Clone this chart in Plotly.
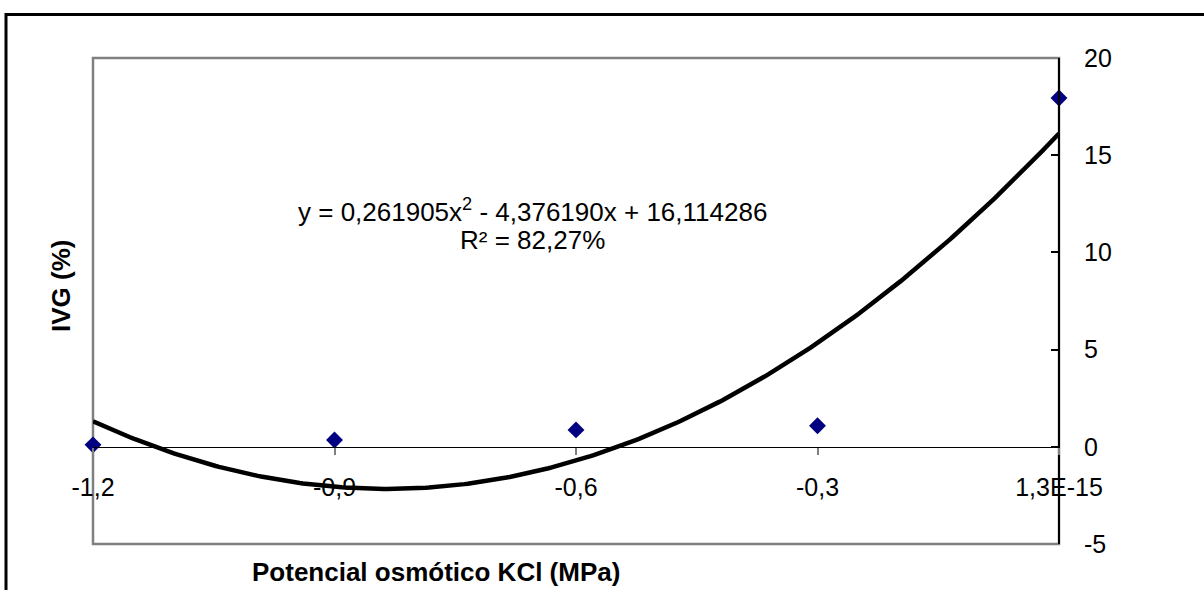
import numpy as np
import plotly.graph_objects as go

# Osmotic potential (MPa) and germination speed index
potencial = [-1.2, -0.9, -0.6, -0.3, 1.3e-15]
ivg = [0.1, 0.35, 0.87, 1.08, 17.94]

x_ticks = [-1.2, -0.9, -0.6, -0.3, 1.3e-15]
x_ticktext = ["-1,2", "-0,9", "-0,6", "-0,3", "1,3E-15"]
y_ticks = [-5, 0, 5, 10, 15, 20]
y_ticktext = ["-5", "0", "5", "10", "15", "20"]

# Quadratic trend coefficients (variable expressed as |potential| x 10)
coef_a = 0.261905
coef_b = -4.376190
coef_c = 16.114286
r2_label = "R² = 82,27%"
eq_label = "y = 0,261905x<sup>2</sup> - 4,376190x + 16,114286"

xs = np.linspace(-1.2, 0.0, 300)
u = -10.0 * xs
ys = coef_a * u ** 2 + coef_b * u + coef_c

FONT = "Liberation Sans"
W, H = 1204, 590
L, R, T, B = 93, 1059, 58, 544


def px(xp):
    return (xp - L) / (R - L)


def py(yp):
    return (B - yp) / (B - T)


fig = go.Figure()
fig.add_trace(go.Scatter(x=xs, y=ys, mode="lines",
                         line=dict(color="black", width=4.5),
                         hoverinfo="skip", showlegend=False))
fig.add_trace(go.Scatter(x=potencial, y=ivg, mode="markers",
                         marker=dict(symbol="diamond", size=13, color="#000080"),
                         cliponaxis=False, showlegend=False))

fig.update_layout(
    width=W, height=H,
    margin=dict(l=L, r=W - R, t=T, b=H - B),
    paper_bgcolor="white", plot_bgcolor="white",
    font=dict(family=FONT, color="black", size=25),
    xaxis=dict(range=[-1.2, 1.3e-15], tickvals=x_ticks, ticktext=x_ticktext,
               anchor="free", position=0.2, showgrid=False, zeroline=False,
               showline=True, linecolor="black", linewidth=1,
               ticks="outside", ticklen=7, tickwidth=1.5, tickcolor="#808080",
               tickfont=dict(size=25, family=FONT), ticklabelstandoff=11),
    yaxis=dict(range=[-5, 20], tickvals=y_ticks, ticktext=y_ticktext, side="right",
               anchor="free", position=1, showgrid=False, zeroline=False,
               showline=True, linecolor="black", linewidth=2,
               ticks="inside", ticklen=7, tickwidth=1.5, tickcolor="black",
               tickfont=dict(size=25, family=FONT), ticklabelstandoff=19),
    shapes=[
        dict(type="rect", xref="paper", yref="paper", x0=0, y0=0, x1=1, y1=1,
             line=dict(color="#808080", width=2.5), layer="below"),
        dict(type="rect", xref="paper", yref="paper",
             x0=px(6), y0=py(700), x1=px(1300), y1=py(14.5),
             line=dict(color="black", width=3)),
    ],
    annotations=[
        dict(text=eq_label, xref="paper", yref="paper", x=px(532), y=py(210),
             showarrow=False, xanchor="center", yanchor="middle",
             font=dict(size=26, family=FONT)),
        dict(text=r2_label, xref="paper", yref="paper", x=px(532), y=py(240),
             showarrow=False, xanchor="center", yanchor="middle",
             font=dict(size=26, family=FONT)),
        dict(text="<b>IVG (%)</b>", xref="paper", yref="paper", x=px(61), y=py(286),
             showarrow=False, xanchor="center", yanchor="middle", textangle=-90,
             font=dict(size=26, family=FONT)),
        dict(text="<b>Potencial osmótico KCl (MPa)</b>", xref="paper", yref="paper",
             x=px(435.5), y=py(572), showarrow=False, xanchor="center", yanchor="middle",
             font=dict(size=26, family=FONT)),
    ],
)

fig.write_html("out.html")
